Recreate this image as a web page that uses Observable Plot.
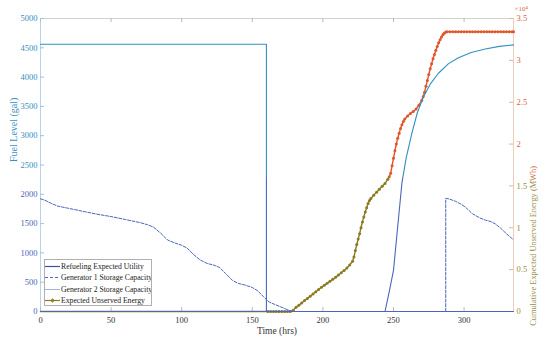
<!DOCTYPE html>
<html><head><meta charset="utf-8">
<script src="https://cdn.jsdelivr.net/npm/d3@7"></script>
<script src="https://cdn.jsdelivr.net/npm/@observablehq/plot@0.6"></script>
<style>
body{margin:0;background:#fff;}
#wrap{position:relative;width:550px;height:343px;font-family:"Liberation Serif","DejaVu Serif",serif;}
#legend{position:absolute;left:44px;top:259px;width:108px;height:47px;border:1px solid #b0b0b0;background:#fff;box-sizing:border-box;font-size:7.7px;color:#222;overflow:hidden;}
.row{position:absolute;left:0;height:11px;display:flex;align-items:center;white-space:nowrap;}
.row svg{width:15px;height:9px;margin-right:1px;flex:none;}
</style></head><body>
<div id="wrap"><div id="legend"></div></div>
<script>
// ---- data ----
const seriesNames = ["Refueling Expected Utility", "Generator 1 Storage Capacity", "Generator 2 Storage Capacity", "Expected Unserved Energy"];

const gen2Hours = [0, 160, 160, 335];
const gen2Fuel  = [4560, 4560, 0, 0];

const gen1Hours = [0,3,8,12,20,30,40,50,60,70,76,80,85,90,95,100,104,108,113,118,123,127,131,136,140,145,150,154,158,162,166,170,174,178,287,287,289,294,298,301,306,311,315,319,322,326,330,335];
const gen1Fuel  = [1923,1900,1840,1800,1760,1710,1660,1620,1570,1520,1480,1440,1340,1220,1170,1130,1080,980,880,820,790,750,650,530,480,450,410,350,250,160,120,80,40,0,0,1930,1923,1880,1830,1780,1667,1598,1560,1535,1496,1420,1326,1224];

const refuelHours = [0,244,247,250,253,256,259,263,267,271,276,282,289,296,305,315,325,335];
const refuelFuel  = [0,0,340,700,1450,2200,2620,3040,3400,3650,3880,4070,4230,4330,4420,4480,4525,4550];

const eueHours = [0,161,163,165,167,169,171,173,175,177,179,181,183,185,187,189,191,193,195,197,199,201,203,205,207,209,211,213,215,217,219,221,222,223,224,225,226,227,228,229,230,231,232,233,234,236,238,240,242,244,246,247,248,249,250,251,252,253,254,255,256,257,258,260,262,264,266,268,270,271,272,273,274,275,276,277,278,279,280,281,282,283,284,285,286,287,288,290,292,294,296,298,300,302,304,306,308,310,312,314,316,318,320,322,324,326,328,330,332,334,335];
const eueMWh = [0,0,0,0,0,0,0,0,0,0,150,500,760,1020,1300,1560,1830,2100,2360,2630,2900,3130,3370,3600,3850,4100,4350,4620,4900,5200,5550,6000,6500,7300,8000,8650,9300,10000,10700,11300,11900,12400,12900,13250,13500,13900,14250,14600,14950,15300,15800,16100,16500,17400,18300,19200,20000,20700,21300,21850,22300,22700,23000,23350,23650,23900,24200,24650,25200,25650,26200,26900,27600,28300,29000,29600,30200,30700,31200,31650,32100,32450,32800,33050,33250,33380,33430,33430,33430,33430,33430,33430,33430,33430,33430,33430,33430,33430,33430,33430,33430,33430,33430,33430,33430,33430,33430,33430,33430,33430,33430];

const xTicks = [0,50,100,150,200,250,300];
const leftTicks = [0,500,1000,1500,2000,2500,3000,3500,4000,4500,5000];
const rightTicks = [0,0.5,1,1.5,2,2.5,3,3.5]; // ×10^4 MWh
const xMax = 335, leftMax = 5000, rightMax = 35000;

// ---- build ----
const k = leftMax / rightMax;
const rows = (hs, vs, f = 1) => hs.map((t, i) => ({t, v: vs[i] * f}));
const gen2 = rows(gen2Hours, gen2Fuel);
const gen1 = rows(gen1Hours, gen1Fuel);
const refuel = rows(refuelHours, refuelFuel);
const eue = rows(eueHours, eueMWh, k);
const rPos = rightTicks.map(v => v * 1e4 * k);
const rFmt = d => String(Math.round(d / k / 1e4 * 10) / 10);
const lFmt = d => String(d);

const cTeal = "#2f8fc0", cBlue = "#4a66bd", cOrange = "#e0552b", cOlive = "#8a7b22";

const chart = Plot.plot({
  width: 550, height: 343,
  marginTop: 18, marginRight: 37, marginBottom: 32, marginLeft: 40,
  x: {domain: [0, xMax]},
  y: {domain: [0, leftMax]},
  style: {fontFamily: '"Liberation Serif", "DejaVu Serif", serif', fontSize: "8.5px", background: "white", overflow: "visible"},
  marks: [
    Plot.ruleY([leftMax], {stroke: "#d2d2d2"}),
    Plot.ruleY([0], {stroke: "#d2d2d2"}),
    Plot.ruleX([0], {stroke: "#b7d3ea"}),
    Plot.ruleX([xMax], {stroke: "#eecbbb"}),
    Plot.tickX(xTicks, {x: d => d, insetTop: 289, stroke: "#bbb"}),
    Plot.tickX(xTicks, {x: d => d, insetBottom: 289, stroke: "#bbb"}),
    Plot.tickY(leftTicks, {y: d => d, insetRight: 469, stroke: "#9cc3e0"}),
    Plot.tickY(rPos, {y: d => d, insetLeft: 469, stroke: "#e6b29c"}),
    Plot.axisX(xTicks, {tickSize: 0, tickPadding: 5, color: "#333", label: null}),
    Plot.axisY(leftTicks.filter(v => v >= 2500), {tickSize: 0, tickPadding: 3, color: cTeal, label: null, tickFormat: lFmt}),
    Plot.axisY(leftTicks.filter(v => v < 2500), {tickSize: 0, tickPadding: 3, color: cBlue, label: null, tickFormat: lFmt}),
    Plot.axisY(rPos.filter((p, i) => rightTicks[i] >= 2), {anchor: "right", tickSize: 0, tickPadding: 3, color: "#d9643f", label: null, tickFormat: rFmt}),
    Plot.axisY(rPos.filter((p, i) => rightTicks[i] < 2), {anchor: "right", tickSize: 0, tickPadding: 3, color: "#9c8a45", label: null, tickFormat: rFmt}),
    Plot.line(eue, {x: "t", y: "v", stroke: "url(#gO)", strokeWidth: 1.4}),
    Plot.dot(eue.filter(d => d.t >= 161), {x: "t", y: "v", r: 1.5, fill: "url(#gO)", stroke: null}),
    Plot.line(gen2, {x: "t", y: "v", stroke: "url(#gB)", strokeWidth: 1.1}),
    Plot.line(refuel, {x: "t", y: "v", stroke: "url(#gB)", strokeWidth: 1.1}),
    Plot.line(gen1, {x: "t", y: "v", stroke: "url(#gB)", strokeWidth: 1, strokeDasharray: "3,1.5"}),
    Plot.text(["Fuel Level (gal)"], {text: d => d, frameAnchor: "left", dx: -27, dy: -3, rotate: -90, fill: "url(#gTB)", fontSize: 10}),
    Plot.text(["Cumulative Expected Unserved Energy (MWh)"], {text: d => d, frameAnchor: "right", dx: 20, dy: 1, rotate: -90, fill: "url(#gTO)", fontSize: 8.4}),
    Plot.text(["Time (hrs)"], {text: d => d, frameAnchor: "bottom", dy: 22, fill: "#333", fontSize: 9.5}),
    Plot.text(["×10⁴"], {text: d => d, frameAnchor: "top-right", dx: 1, dy: -12, textAnchor: "start", fill: "#d9643f", fontSize: 7})
  ]
});

const svg = chart.tagName.toLowerCase() === "svg" ? chart : chart.querySelector("svg");
const ns = "http://www.w3.org/2000/svg";
const defs = document.createElementNS(ns, "defs");
const b = 177 / 343;
const tbB = (-(177 - 161.5) + 120) / 240;
const tbO = (-(177 - 165.5) + 120) / 240;
defs.innerHTML = `
<linearGradient id="gB" gradientUnits="userSpaceOnUse" x1="0" y1="0" x2="0" y2="343">
  <stop offset="${b}" stop-color="${cTeal}"/><stop offset="${b}" stop-color="${cBlue}"/></linearGradient>
<linearGradient id="gO" gradientUnits="userSpaceOnUse" x1="0" y1="0" x2="0" y2="343">
  <stop offset="${b}" stop-color="${cOrange}"/><stop offset="${b}" stop-color="${cOlive}"/></linearGradient>
<linearGradient id="gTB" gradientUnits="userSpaceOnUse" x1="-120" y1="0" x2="120" y2="0">
  <stop offset="${tbB}" stop-color="#4a6ec0"/><stop offset="${tbB}" stop-color="#3a8fc4"/></linearGradient>
<linearGradient id="gTO" gradientUnits="userSpaceOnUse" x1="-120" y1="0" x2="120" y2="0">
  <stop offset="${tbO}" stop-color="#9c8a45"/><stop offset="${tbO}" stop-color="#d9643f"/></linearGradient>`;
svg.insertBefore(defs, svg.firstChild);
document.getElementById("wrap").prepend(chart);

// ---- legend ----
const swatches = [
  `<line x1="0" y1="4.5" x2="15" y2="4.5" stroke="#3c4fa8" stroke-width="1.2"/>`,
  `<line x1="0" y1="4.5" x2="15" y2="4.5" stroke="#4a6ec0" stroke-width="1" stroke-dasharray="3,2"/>`,
  `<line x1="0" y1="4.5" x2="15" y2="4.5" stroke="#8aa0d8" stroke-width="0.8"/>`,
  `<line x1="0" y1="4.5" x2="15" y2="4.5" stroke="${cOlive}" stroke-width="1.2"/><path d="M7.5,2.3V6.7M5.3,4.5H9.7M6,3L9,6M9,3L6,6" stroke="${cOlive}" stroke-width="0.8"/>`
];
const leg = document.getElementById("legend");
seriesNames.forEach((n, i) => {
  const r = document.createElement("div");
  r.className = "row";
  r.style.top = (0.5 + i * 11.6) + "px";
  r.innerHTML = `<svg viewBox="0 0 15 9">${swatches[i]}</svg><span>${n}</span>`;
  leg.appendChild(r);
});
</script>
</body></html>
